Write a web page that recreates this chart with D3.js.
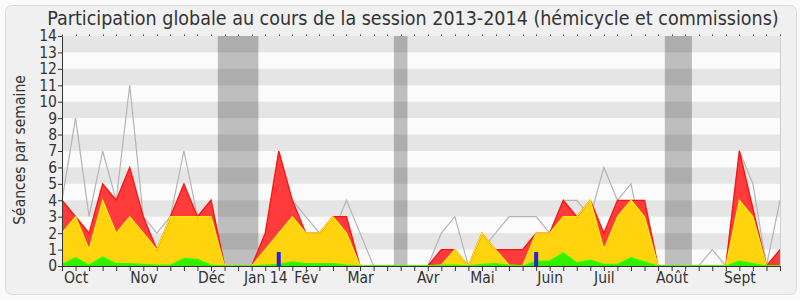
<!DOCTYPE html>
<html><head><meta charset="utf-8">
<script src="https://cdn.jsdelivr.net/npm/d3@7"></script>
<style>
html,body{margin:0;padding:0;background:#fafafa;}
svg{display:block;font-family:"DejaVu Sans Condensed","DejaVu Sans",sans-serif;}
</style></head><body>
<svg id="chart" width="800" height="300"></svg>
<script>
// ---- data (one value per week, session 2013-2014) ----
const weeks = d3.range(54);
const green  = [0.1,0.5,0.05,0.55,0.15,0.15,0.1,0.05,0.05,0.45,0.4,0.05,0,0,0,0.05,0.1,0.25,0.15,0.15,0.15,0.05,0,0,0,0,0,0,0.05,0.05,0,0.1,0.15,0.05,0,0.3,0.3,0.8,0.2,0.35,0.1,0.1,0.5,0.25,0,0,0,0,0,0,0.3,0.15,0,0];
const yellow = [1.9,2.5,0.95,3.45,1.85,2.85,1.9,0.95,2.95,2.55,2.6,2.95,0,0,0,0.95,1.9,2.75,1.85,1.85,2.85,1.95,0,0,0,0,0,0,0,0.95,0,1.9,0.85,0,0,1.7,1.7,2.2,2.8,3.65,0.9,2.9,3.5,2.75,0,0,0,0,0,0,3.7,2.85,0,0];
const red    = [2,0,1,1,2,3,1,0,0,2,0,1,0,0,0,1,5,1,0,0,0,1,0,0,0,0,0,0,0.95,0,0,0,0,0.95,1,0,0,1,0,0,1,1,0,1,0,0,0,0,0,0,3,0.5,0,1];
const gray   = [4,9,3,7,4,11,3,2,3,7,3,4,0,0,0,1,2,4,3,2,2,4,2,0,0,0,0,0,2,3,0,1,2,3,3,3,2,4,4,3,6,4,5,1,0,0,0,0,1,0,7,5,0,4];
const blue   = [0,0,0,0,0,0,0,0,0,0,0,0,0,0,0,0,0.85,0,0,0,0,0,0,0,0,0,0,0,0,0,0,0,0,0,0,0.85,0,0,0,0,0,0,0,0,0,0,0,0,0,0,0,0,0,0];
const vacations = [[11.5,14.5],[24.5,25.5],[44.5,46.5]];
const monthLabels = ["Oct","Nov","Déc","Jan 14","Fév","Mar","Avr","Mai","Juin","Juil","Août","Sept"];
const monthWeeks  = [1,6,11,15,18,22,27,31,36,40,45,50];
const yTicks = d3.range(0,15);
const title = "Participation globale au cours de la session 2013-2014 (hémicycle et commissions)";
const yTitle = "Séances par semaine";

// ---- layout ----
const svg = d3.select("#chart");
const L = 62, R = 780, T = 36, B = 266;
const x = d3.scaleLinear().domain([0,53]).range([L,R]);
const y = d3.scaleLinear().domain([0,14]).range([B,T]);

svg.append("rect").attr("x",5.5).attr("y",5.5).attr("width",791).attr("height",289)
  .attr("rx",6).attr("fill","#f0f0f0").attr("stroke","#dcdcdc");

// plot background
svg.append("rect").attr("x",L).attr("y",T).attr("width",R-L).attr("height",B-T).attr("fill","#fbfbfb");
// vacation bands
svg.selectAll("rect.vac").data(vacations).join("rect").attr("class","vac")
  .attr("x",d=>x(d[0])).attr("width",d=>x(d[1])-x(d[0]))
  .attr("y",T).attr("height",B-T).attr("fill","#bebebe");
// dark stripes
svg.selectAll("rect.stripe").data(d3.range(1,14,2)).join("rect").attr("class","stripe")
  .attr("x",L).attr("width",R-L).attr("y",d=>y(d+1)).attr("height",d=>y(d)-y(d+1))
  .attr("fill","#000").attr("fill-opacity",0.085);

// gray line
svg.append("path").datum(weeks)
  .attr("d",d3.line().x(i=>x(i)).y(i=>y(gray[i])))
  .attr("fill","none").attr("stroke","#b4b4b4").attr("stroke-width",1.2);

// stacked areas
const table = weeks.map(i=>({w:i, green:green[i], yellow:yellow[i], red:red[i]}));
const stack = d3.stack().keys(["green","yellow","red"])(table);
const fills = {green:"#33ee00", yellow:"#ffd30e", red:"#ff3b3b"};
const strokes = {green:"#2dff00", yellow:"#ffe812", red:"#ff1111"};
const area = d3.area().x(d=>x(d.data.w)).y0(d=>y(d[0])).y1(d=>y(d[1]));
const topLine = d3.line().x(d=>x(d.data.w)).y(d=>y(d[1]));
for (let k = 2; k >= 0; k--) {
  const s = stack[k];
  svg.append("path").datum(s).attr("d",area).attr("fill",fills[s.key]);
}
for (let k = 2; k >= 0; k--) {
  const s = stack[k];
  svg.append("path").datum(s).attr("d",topLine).attr("fill","none")
    .attr("stroke",strokes[s.key]).attr("stroke-width",1.3);
}

// blue bars
svg.selectAll("rect.blue").data(weeks.filter(i=>blue[i]>0)).join("rect").attr("class","blue")
  .attr("x",i=>x(i)-2).attr("width",4).attr("y",i=>y(blue[i])).attr("height",i=>y(0)-y(blue[i]))
  .attr("fill","#2424dc");

// right border
svg.append("line").attr("x1",R+0.5).attr("x2",R+0.5).attr("y1",T).attr("y2",B).attr("stroke","#cfcfcf");
// top dots
svg.selectAll("rect.dot").data(weeks).join("rect").attr("class","dot")
  .attr("x",i=>Math.round(x(i))).attr("y",T-1.5).attr("width",1).attr("height",1.5).attr("fill","#444");

// axes
const yAxis = svg.append("g").attr("transform",`translate(${L},0)`)
  .call(d3.axisLeft(y).tickValues(yTicks).tickSize(4).tickSizeOuter(0).tickFormat(d3.format("d")));
const xAxis = svg.append("g").attr("transform",`translate(0,${B})`)
  .call(d3.axisBottom(x).tickValues(weeks).tickSize(5).tickSizeOuter(0)
    .tickFormat(i=>{const j=monthWeeks.indexOf(i); return j>=0?monthLabels[j]:"";}));
[yAxis,xAxis].forEach(g=>{
  g.selectAll("path.domain").attr("stroke","#333");
  g.selectAll(".tick line").attr("stroke","#333");
  g.selectAll("text").attr("fill","#333").style("font-family",'"DejaVu Sans Condensed","DejaVu Sans",sans-serif').style("font-size","15.5px");
});
yAxis.selectAll("text").attr("x",-5);
xAxis.selectAll("text").attr("y",6);

// titles
svg.append("text").attr("x",413).attr("y",24.5).attr("text-anchor","middle")
  .attr("fill","#333").style("font-size","19.5px").text(title);
svg.append("text").attr("transform","translate(25,150) rotate(-90)").attr("text-anchor","middle")
  .attr("fill","#333").style("font-size","15.5px").text(yTitle);
</script>
</body></html>
